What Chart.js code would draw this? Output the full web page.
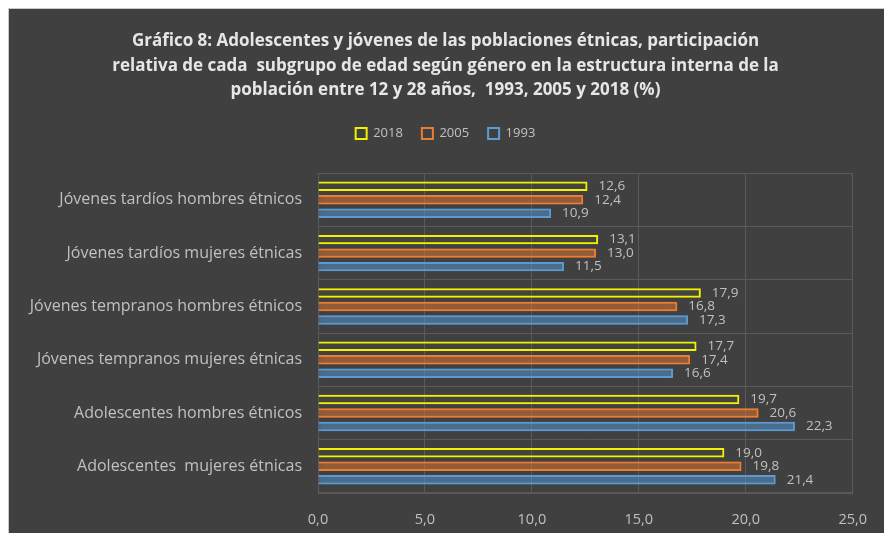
<!DOCTYPE html>
<html>
<head>
<meta charset="utf-8">
<script src="https://cdn.jsdelivr.net/npm/chart.js@4/dist/chart.umd.min.js"></script>
<style>
  html, body { margin: 0; padding: 0; background: #ffffff; overflow: hidden; }
  #wrap { position: absolute; left: 8px; top: 8px; width: 876px; height: 525px; background: #404040; border-left: 1px solid #c8c8c8; border-top: 1px solid #c8c8c8; }
  canvas { display: block; }
</style>
</head>
<body>
<div id="wrap"><canvas id="c" width="876" height="525"></canvas></div>
<script>
const categories = [
  'Jóvenes tardíos hombres étnicos',
  'Jóvenes tardíos mujeres étnicas',
  'Jóvenes tempranos hombres étnicos',
  'Jóvenes tempranos mujeres étnicas',
  'Adolescentes hombres étnicos',
  'Adolescentes  mujeres étnicas'
];
const seriesNames = ['2018', '2005', '1993'];
const values2018 = [12.6, 13.1, 17.9, 17.7, 19.7, 19.0];
const values2005 = [12.4, 13.0, 16.8, 17.4, 20.6, 19.8];
const values1993 = [10.9, 11.5, 17.3, 16.6, 22.3, 21.4];
const xMin = 0, xMax = 25, xStep = 5;
const titleLines = [
  'Gráfico 8: Adolescentes y jóvenes de las poblaciones étnicas, participación',
  'relativa de cada  subgrupo de edad según género en la estructura interna de la',
  'población entre 12 y 28 años,  1993, 2005 y 2018 (%)'
];

const fmt = v => v.toFixed(1).replace('.', ',');
const textCol = '#c0c0c0';
const gridCol = '#5a5a5a';
const baseFont = "'Open Sans', 'DejaVu Sans', sans-serif";

const glowPlugin = {
  id: 'glow',
  beforeDatasetDraw(chart, args) {
    const ctx = chart.ctx;
    ctx.save();
    const glow = ['rgba(0,0,0,0)', 'rgba(237,125,49,0.55)', 'rgba(91,155,213,0.6)'][args.index];
    ctx.shadowColor = glow;
    ctx.shadowBlur = 6;
  },
  afterDatasetDraw(chart) {
    chart.ctx.restore();
  }
};

const labelPlugin = {
  id: 'barLabels',
  afterDatasetsDraw(chart) {
    const ctx = chart.ctx;
    ctx.save();
    ctx.font = "13.5px " + baseFont;
    ctx.fillStyle = textCol;
    ctx.textAlign = 'left';
    ctx.textBaseline = 'middle';
    chart.data.datasets.forEach((ds, i) => {
      const meta = chart.getDatasetMeta(i);
      meta.data.forEach((el, j) => {
        ctx.fillText(fmt(ds.data[j]), el.x + 11, el.y);
      });
    });
    ctx.restore();
  }
};

new Chart(document.getElementById('c'), {
  type: 'bar',
  data: {
    labels: categories,
    datasets: [
      { label: seriesNames[0], data: values2018, borderColor: '#f2f200', backgroundColor: 'rgba(255,255,0,0.02)', borderWidth: 2 },
      { label: seriesNames[1], data: values2005, borderColor: '#ed7d31', backgroundColor: 'rgba(237,125,49,0.32)', borderWidth: 2 },
      { label: seriesNames[2], data: values1993, borderColor: '#5b9bd5', backgroundColor: 'rgba(91,155,213,0.32)', borderWidth: 2 }
    ]
  },
  options: {
    indexAxis: 'y',
    responsive: false,
    animation: false,
    devicePixelRatio: 1,
    categoryPercentage: 0.76,
    barPercentage: 0.7,
    layout: { padding: { left: 12, right: 15, top: 0, bottom: 0 } },
    plugins: {
      title: {
        display: true,
        text: titleLines,
        color: '#e6e6e6',
        font: { family: "'Liberation Sans Narrow', 'Open Sans', sans-serif", size: 17, weight: 'bold', lineHeight: 1.45 },
        padding: { top: 20, bottom: 5 }
      },
      subtitle: {
        display: true,
        text: '',
        weight: 500,
        font: { size: 1 },
        padding: { top: 11, bottom: 11 }
      },
      legend: {
        display: true,
        labels: {
          color: textCol,
          font: { family: baseFont, size: 13 },
          boxWidth: 11,
          boxHeight: 11,
          padding: 19,
          generateLabels(chart) {
            return chart.data.datasets.map((ds, i) => ({
              text: ds.label,
              fillStyle: 'rgba(0,0,0,0)',
              strokeStyle: ds.borderColor,
              lineWidth: 2,
              fontColor: textCol,
              hidden: false,
              datasetIndex: i
            }));
          }
        }
      },
      tooltip: { enabled: false }
    },
    scales: {
      x: {
        min: xMin, max: xMax,
        ticks: { stepSize: xStep, color: textCol, font: { family: baseFont, size: 14.5 }, padding: 18, callback: v => fmt(v) },
        grid: { color: gridCol, drawTicks: false },
        border: { color: gridCol },
        afterFit(scale) { scale.height = 41; }
      },
      y: {
        ticks: { color: textCol, font: { family: baseFont, size: 16 }, padding: 16 },
        grid: { color: gridCol, drawTicks: false, offset: true },
        border: { color: gridCol },
        afterFit(scale) { scale.width = 297; }
      }
    }
  },
  plugins: [glowPlugin, labelPlugin]
});
</script>
</body>
</html>
